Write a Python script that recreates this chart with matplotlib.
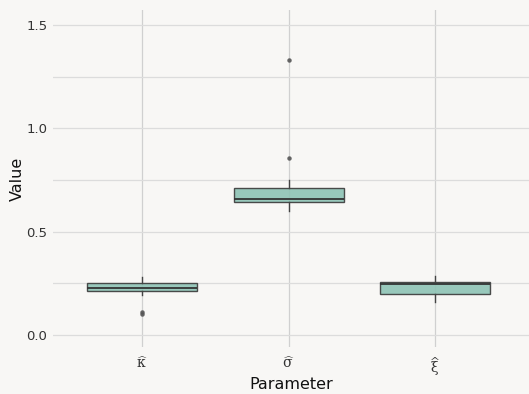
import numpy as np
import matplotlib.pyplot as plt

# parameter estimates
params = [r'$\widehat{\mathrm{\kappa}}$', r'$\widehat{\mathrm{\sigma}}$', r'$\widehat{\mathrm{\xi}}$']
q1 = [0.211, 0.642, 0.200]
med = [0.229, 0.660, 0.245]
q3 = [0.250, 0.710, 0.258]
whislo = [0.194, 0.600, 0.161]
whishi = [0.280, 0.750, 0.284]
fliers = [[0.113, 0.100], [0.858, 1.332], []]

bg = '#F8F7F5'
plt.rcParams['mathtext.fontset'] = 'dejavuserif'

fig = plt.figure(figsize=(5.29, 3.94), dpi=100, facecolor=bg)
ax = fig.add_axes([53 / 529, 1 - 347 / 394, 1 - 53 / 529, (347 - 10) / 394])
ax.set_facecolor(bg)

stats = []
for i in range(len(params)):
    stats.append(dict(q1=q1[i], med=med[i], q3=q3[i], whislo=whislo[i],
                      whishi=whishi[i], fliers=fliers[i]))

ax.bxp(stats, positions=np.arange(len(params)), widths=0.75, patch_artist=True,
       showcaps=False,
       boxprops=dict(facecolor='#8EC3B5', edgecolor='#3a3a3a', linewidth=1.0, alpha=0.9),
       medianprops=dict(color='#333333', linewidth=1.3),
       whiskerprops=dict(color='#444444', linewidth=1.0),
       flierprops=dict(marker='o', markersize=3.2, markerfacecolor='#555555',
                       markeredgecolor='none', alpha=0.9),
       zorder=3)

ax.set_xlim(-0.607, 2.64)
ax.set_ylim(-0.058, 1.572)
ax.set_yticks([0.0, 0.5, 1.0, 1.5])
ax.set_yticks([0.25, 0.75, 1.25], minor=True)
ax.set_yticklabels(['0.0', '0.5', '1.0', '1.5'])
ax.set_xticks(np.arange(len(params)))
ax.set_xticklabels(params)

ax.grid(axis='y', which='both', color='#DCDCDC', linewidth=0.9, zorder=0)
ax.grid(axis='x', color='#D0D0D0', linewidth=0.9, zorder=0)
ax.set_axisbelow(True)
for s in ax.spines.values():
    s.set_visible(False)
ax.tick_params(axis='both', which='both', length=0, colors='#333333', labelsize=9.5)
ax.tick_params(axis='x', labelsize=10, pad=6)
ax.tick_params(axis='y', pad=4)

ax.set_xlabel('Parameter', fontsize=11.5, color='#111111', labelpad=-1)
ax.set_ylabel('Value', fontsize=11.5, color='#111111')
ax.yaxis.set_label_coords(-0.059, 0.5)

fig.savefig('out.png', dpi=100, facecolor=bg)
